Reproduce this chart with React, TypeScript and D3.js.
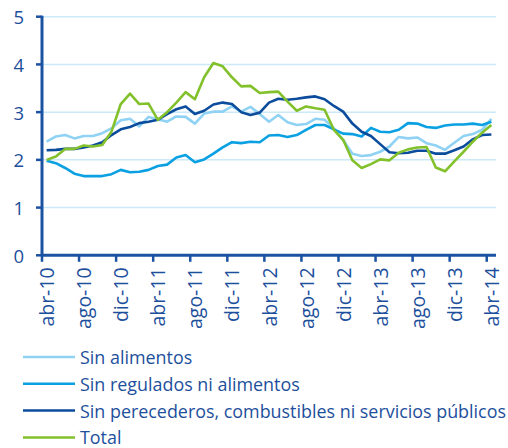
import React from "react";
import * as d3 from "d3";

const monthNames = ["ene", "feb", "mar", "abr", "may", "jun", "jul", "ago", "sep", "oct", "nov", "dic"];
const startYear = 10;
const startMonth = 3; // abr
const nMonths = 49;
const months: string[] = Array.from({ length: nMonths }, (_, i) => {
  const m = (startMonth + i) % 12;
  const y = startYear + Math.floor((startMonth + i) / 12);
  return `${monthNames[m]}-${y}`;
});

const sinAlimentos = [2.38,2.49,2.52,2.45,2.50,2.50,2.56,2.66,2.83,2.86,2.70,2.90,2.85,2.80,2.91,2.90,2.76,2.97,3.01,3.01,3.12,3.01,3.11,2.96,2.80,2.94,2.79,2.73,2.75,2.86,2.84,2.66,2.42,2.13,2.08,2.10,2.17,2.28,2.48,2.45,2.47,2.35,2.30,2.21,2.36,2.50,2.54,2.63,2.86];
const sinRegulados = [1.98,1.93,1.83,1.71,1.66,1.66,1.66,1.70,1.79,1.74,1.75,1.79,1.87,1.90,2.05,2.10,1.95,2.01,2.13,2.26,2.37,2.35,2.38,2.37,2.51,2.52,2.48,2.52,2.63,2.73,2.73,2.64,2.55,2.54,2.49,2.67,2.59,2.58,2.63,2.77,2.76,2.69,2.67,2.72,2.74,2.74,2.76,2.73,2.80];
const sinPerecederos = [2.20,2.21,2.23,2.23,2.26,2.30,2.37,2.52,2.64,2.69,2.77,2.80,2.84,2.96,3.06,3.12,2.96,3.03,3.16,3.20,3.17,3.00,2.94,2.99,3.20,3.28,3.26,3.28,3.31,3.33,3.27,3.13,3.01,2.76,2.59,2.50,2.33,2.16,2.14,2.15,2.19,2.19,2.13,2.13,2.20,2.28,2.43,2.52,2.53];
const total = [2.00,2.07,2.23,2.23,2.30,2.28,2.31,2.59,3.17,3.39,3.17,3.18,2.84,3.00,3.20,3.42,3.27,3.73,4.03,3.96,3.73,3.54,3.55,3.40,3.42,3.43,3.22,3.03,3.12,3.08,3.05,2.63,2.42,1.99,1.83,1.91,2.01,1.99,2.15,2.22,2.26,2.27,1.84,1.76,1.97,2.17,2.38,2.57,2.73];

const yTicks = [0, 1, 2, 3, 4, 5];
const tickEvery = 4;

const seriesNames = [
  "Sin alimentos",
  "Sin regulados ni alimentos",
  "Sin perecederos, combustibles ni servicios públicos",
  "Total",
];
const seriesValues = [sinAlimentos, sinRegulados, sinPerecederos, total];
const seriesColors = ["#8fd2f4", "#0aa0e2", "#0c4c9c", "#82c12c"];

const W = 508;
const H = 448;
const left = 42;
const right = 496;
const top = 16.7;
const bottom = 255.3;
const axisColor = "#1b52a2";
const textColor = "#1d4f9c";
const font = "'Open Sans', sans-serif";

export default function App() {
  const x = d3.scaleBand<string>().domain(months).range([left, right]).paddingInner(0).paddingOuter(0);
  const bw = x.bandwidth();
  const y = d3.scaleLinear().domain([0, 5]).range([bottom, top]);
  const cx = (m: string) => (x(m) as number) + bw / 2;

  const line = d3
    .line<number>()
    .x((_, i) => cx(months[i]))
    .y((v) => y(v));

  const drawOrder = [0, 1, 2, 3];

  return (
    <svg width={W} height={H} style={{ position: "absolute", left: 0, top: 0, background: "#fff" }} fontFamily={font}>
      {/* gridlines */}
      {yTicks.filter((t) => t > 0).map((t) => (
        <line key={"g" + t} x1={left + 1} x2={right} y1={y(t)} y2={y(t)} stroke="#cbe9f8" strokeWidth={1.5} />
      ))}
      {/* series */}
      {drawOrder.map((si) => (
        <path
          key={"s" + si}
          d={line(seriesValues[si]) || ""}
          fill="none"
          stroke={seriesColors[si]}
          strokeWidth={2.6}
          strokeLinejoin="round"
        />
      ))}
      {/* y axis */}
      <line x1={left} x2={left} y1={top - 1} y2={bottom + 1} stroke={axisColor} strokeWidth={3} />
      {yTicks.map((t) => (
        <g key={"yt" + t}>
          <line x1={left - 6} x2={left} y1={y(t)} y2={y(t)} stroke={axisColor} strokeWidth={2.5} />
          <text x={24} y={y(t)} textAnchor="end" dominantBaseline="central" fontSize={18.5} fill={textColor}>
            {t}
          </text>
        </g>
      ))}
      {/* x axis */}
      <line x1={left} x2={right} y1={bottom} y2={bottom} stroke={axisColor} strokeWidth={3} />
      {months.map((m, i) =>
        i % tickEvery === 0 ? (
          <g key={"xt" + m}>
            <line x1={x(m) as number} x2={x(m) as number} y1={bottom} y2={bottom + 6.5} stroke={axisColor} strokeWidth={2.5} />
            <text
              transform={`translate(${cx(m)},${bottom + 12}) rotate(-90)`}
              textAnchor="end"
              dominantBaseline="central"
              fontSize={19.5}
              fill={textColor}
            >
              {m}
            </text>
          </g>
        ) : null
      )}
      {/* legend */}
      {seriesNames.map((name, i) => {
        const ly = 357 + i * 26.8;
        return (
          <g key={"l" + i}>
            <line x1={23} x2={75} y1={ly} y2={ly} stroke={seriesColors[i]} strokeWidth={2.5} />
            <text x={80} y={ly} dominantBaseline="central" fontSize={17.9} fill={textColor}>
              {name}
            </text>
          </g>
        );
      })}
    </svg>
  );
}
